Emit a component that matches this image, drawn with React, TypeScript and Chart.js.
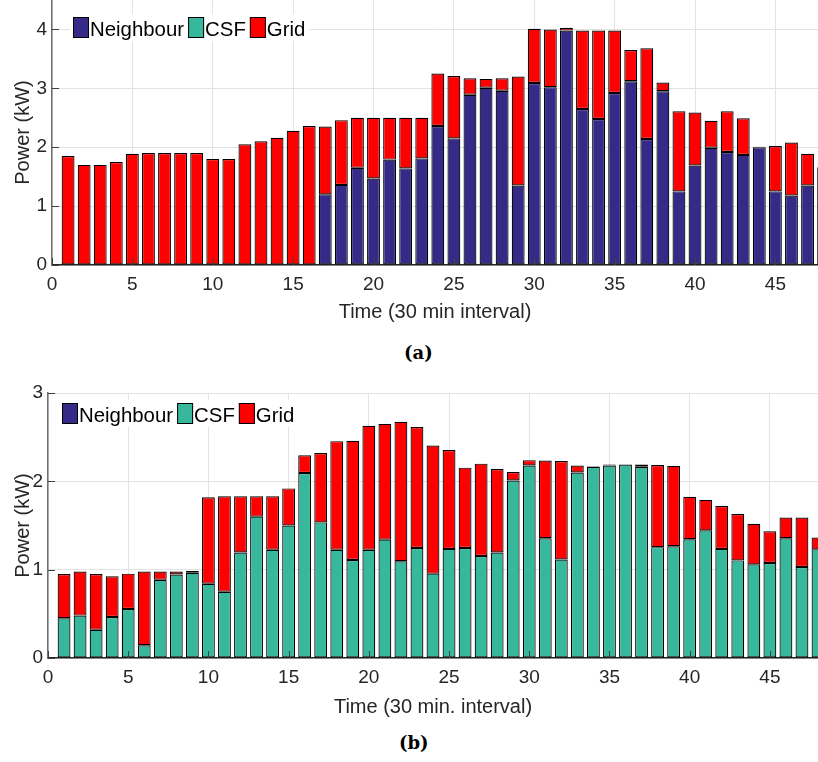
import React, { useEffect, useRef } from 'react';
import { Chart, registerables } from 'chart.js';

Chart.register(...registerables);

// ---------- data ----------
const timeSlots = [
  1, 2, 3, 4, 5, 6, 7, 8, 9, 10, 11, 12, 13, 14, 15, 16,
  17, 18, 19, 20, 21, 22, 23, 24, 25, 26, 27, 28, 29, 30, 31, 32,
  33, 34, 35, 36, 37, 38, 39, 40, 41, 42, 43, 44, 45, 46, 47, 48,
];

const seriesLabels = ['Neighbour', 'CSF', 'Grid'];

// (a)
const topNeighbour = [
  0, 0, 0, 0, 0, 0, 0, 0, 0, 0, 0, 0, 0, 0, 0, 0,
  1.2, 1.36, 1.65, 1.47, 1.79, 1.64, 1.81, 2.36, 2.15, 2.89, 3.01, 2.96, 1.35, 3.09, 3.02, 3.98,
  2.65, 2.48, 2.92, 3.12, 2.14, 2.95, 1.25, 1.69, 1.99, 1.92, 1.87, 2.0, 1.25, 1.18, 1.35, 1.66,
];
const topCSF = [
  0, 0, 0, 0, 0, 0, 0, 0, 0, 0, 0, 0, 0, 0, 0, 0,
  0, 0, 0, 0, 0, 0, 0, 0, 0, 0, 0, 0, 0, 0, 0, 0,
  0, 0, 0, 0, 0, 0, 0, 0, 0, 0, 0, 0, 0, 0, 0, 0,
];
const topGrid = [
  1.85, 1.7, 1.7, 1.75, 1.89, 1.9, 1.9, 1.9, 1.9, 1.8, 1.8, 2.05, 2.1, 2.16, 2.28, 2.36,
  1.15, 1.1, 0.85, 1.03, 0.71, 0.86, 0.69, 0.89, 1.06, 0.28, 0.15, 0.21, 1.85, 0.92, 0.98, 0.05,
  1.33, 1.5, 1.06, 0.53, 1.54, 0.15, 1.36, 0.9, 0.46, 0.69, 0.62, 0.01, 0.77, 0.9, 0.54, 0,
];

// (b)
const bottomNeighbour = [
  0, 0, 0, 0, 0, 0, 0, 0, 0, 0, 0, 0, 0, 0, 0, 0,
  0, 0, 0, 0, 0, 0, 0, 0, 0, 0, 0, 0, 0, 0, 0, 0,
  0, 0, 0, 0, 0, 0, 0, 0, 0, 0, 0, 0, 0, 0, 0, 0,
];
const bottomCSF = [
  0.45, 0.48, 0.32, 0.465, 0.555, 0.145, 0.885, 0.945, 0.965, 0.84, 0.75, 1.195, 1.6, 1.225, 1.5, 2.095,
  1.535, 1.225, 1.11, 1.225, 1.34, 1.095, 1.245, 0.955, 1.235, 1.245, 1.155, 1.195, 2.01, 2.18, 1.355, 1.115,
  2.1, 2.165, 2.18, 2.19, 2.165, 1.255, 1.265, 1.345, 1.445, 1.235, 1.105, 1.06, 1.075, 1.355, 1.03, 1.23,
];
const bottomGrid = [
  0.5, 0.5, 0.63, 0.46, 0.4, 0.835, 0.095, 0.035, 0.02, 0.98, 1.08, 0.635, 0.23, 0.605, 0.42, 0.2,
  0.785, 1.23, 1.35, 1.405, 1.31, 1.58, 1.37, 1.45, 1.12, 0.91, 1.045, 0.945, 0.095, 0.06, 0.88, 1.115,
  0.08, 0.005, 0.01, 0, 0.025, 0.93, 0.91, 0.48, 0.345, 0.485, 0.525, 0.46, 0.36, 0.235, 0.56, 0.135,
];

const yTitle = 'Power (kW)';
const topXTitle = 'Time (30 min interval)';
const bottomXTitle = 'Time (30 min. interval)';
const captions = ['(a)', '(b)'];

// ---------- style ----------
const COLORS = ['#352a87', '#37b89d', '#ff0000'];
const FONT = '"Liberation Sans", Arial, Helvetica, sans-serif';
const TEXT = '#262626';
const GRID = '#e3e3e3';
const TICK_SIZE = 19;
const TITLE_SIZE = 20;
const LEGEND_SIZE = 20.4;

function makeLegendPlugin(dx: number, dy: number) {
  return {
    id: 'matlabLegend',
    afterDatasetsDraw(chart: any) {
      const { ctx, chartArea } = chart;
      const boxW = 16;
      const boxH = 21;
      const textGap = 1;
      const itemGap = 4;
      ctx.save();
      ctx.font = `${LEGEND_SIZE}px ${FONT}`;
      const items = chart.data.datasets.map((ds: any) => ({ label: ds.label, color: ds.backgroundColor }));
      let total = 0;
      items.forEach((it: any) => {
        total += boxW + textGap + ctx.measureText(it.label).width + itemGap;
      });
      let x = chartArea.left + dx;
      const y = chartArea.top + dy;
      ctx.fillStyle = '#ffffff';
      ctx.fillRect(x - 3, y - 3, total + 3, boxH + 6);
      items.forEach((it: any) => {
        ctx.fillStyle = it.color;
        ctx.fillRect(x, y, boxW, boxH);
        ctx.strokeStyle = '#000000';
        ctx.lineWidth = 1;
        ctx.strokeRect(x + 0.5, y + 0.5, boxW - 1, boxH - 1);
        ctx.fillStyle = '#000000';
        ctx.textAlign = 'left';
        ctx.textBaseline = 'alphabetic';
        ctx.fillText(it.label, x + boxW + textGap, y + boxH - 2);
        x += boxW + textGap + ctx.measureText(it.label).width + itemGap;
      });
      ctx.restore();
    },
  };
}

const innerTicksPlugin = {
  id: 'innerTicks',
  afterDatasetsDraw(chart: any) {
    const { ctx, chartArea, scales } = chart;
    ctx.save();
    ctx.strokeStyle = '#404040';
    ctx.lineWidth = 1;
    scales.x.ticks.forEach((t: any) => {
      const px = Math.round(scales.x.getPixelForValue(t.value)) + 0.5;
      ctx.beginPath();
      ctx.moveTo(px, chartArea.bottom);
      ctx.lineTo(px, chartArea.bottom - 7);
      ctx.stroke();
    });
    scales.y.ticks.forEach((t: any) => {
      const py = Math.round(scales.y.getPixelForValue(t.value)) + 0.5;
      ctx.beginPath();
      ctx.moveTo(chartArea.left, py);
      ctx.lineTo(chartArea.left + 7, py);
      ctx.stroke();
    });
    ctx.restore();
  },
};

type PanelProps = {
  top: number;
  height: number;
  neighbour: number[];
  csf: number[];
  grid: number[];
  yMax: number;
  xMax: number;
  xTitle: string;
  yAxisWidth: number;
  xAxisHeight: number;
  padTop: number;
  legendDx: number;
  legendDy: number;
};

function BarPanel(p: PanelProps) {
  const ref = useRef<HTMLCanvasElement>(null);
  useEffect(() => {
    const series = [p.neighbour, p.csf, p.grid];
    const chart = new Chart(ref.current as HTMLCanvasElement, {
      type: 'bar',
      data: {
        datasets: series.map((vals, i) => ({
          label: seriesLabels[i],
          data: timeSlots.map((t, j) => ({ x: t, y: vals[j] })),
          backgroundColor: COLORS[i],
          borderColor: '#000000',
          borderWidth: 1.2,
          borderSkipped: false,
          barPercentage: 0.8,
          categoryPercentage: 1,
        })),
      } as any,
      options: {
        animation: false,
        responsive: false,
        maintainAspectRatio: false,
        layout: { padding: { top: p.padTop, left: 0, right: 0, bottom: 0 } },
        plugins: { legend: { display: false }, tooltip: { enabled: false } },
        scales: {
          x: {
            type: 'linear',
            stacked: true,
            min: 0,
            max: p.xMax,
            offset: false,
            grid: { color: GRID, lineWidth: 1, drawTicks: false, offset: false },
            border: { display: true, color: '#262626', width: 1.5 },
            ticks: {
              stepSize: 5,
              includeBounds: false,
              padding: 8,
              color: TEXT,
              font: { family: FONT, size: TICK_SIZE },
              maxRotation: 0,
            },
            title: {
              display: true,
              text: p.xTitle,
              color: TEXT,
              font: { family: FONT, size: TITLE_SIZE },
              padding: { top: 0, bottom: 6 },
            },
            afterFit(scale: any) {
              scale.height = p.xAxisHeight;
              scale.paddingLeft = 0;
              scale.paddingRight = 0;
            },
          },
          y: {
            type: 'linear',
            stacked: true,
            min: 0,
            max: p.yMax,
            grid: { color: GRID, lineWidth: 1, drawTicks: false },
            border: { display: true, color: '#707070', width: 1.5 },
            ticks: {
              stepSize: 1,
              includeBounds: false,
              padding: 5,
              color: TEXT,
              font: { family: FONT, size: TICK_SIZE },
            },
            title: {
              display: true,
              text: yTitle,
              color: TEXT,
              font: { family: FONT, size: TITLE_SIZE },
              padding: { top: 11, bottom: 0 },
            },
            afterFit(scale: any) {
              scale.width = p.yAxisWidth;
              scale.paddingTop = 0;
              scale.paddingBottom = 0;
            },
          },
        },
      } as any,
      plugins: [innerTicksPlugin, makeLegendPlugin(p.legendDx, p.legendDy)],
    });
    return () => chart.destroy();
  }, []);
  return (
    <canvas
      ref={ref}
      width={818}
      height={p.height}
      style={{ position: 'absolute', left: 0, top: p.top, width: 818, height: p.height, display: 'block' }}
    />
  );
}

const captionStyle: React.CSSProperties = {
  position: 'absolute',
  font: 'bold 18px "DejaVu Serif", "Liberation Serif", serif',
  color: '#000',
  whiteSpace: 'nowrap',
};

export default function App() {
  return (
    <div style={{ position: 'absolute', left: 0, top: 0, width: 818, height: 762, background: '#fff', overflow: 'hidden' }}>
      <BarPanel
        top={0}
        height={330}
        neighbour={topNeighbour}
        csf={topCSF}
        grid={topGrid}
        yMax={4.5}
        xMax={47.65}
        xTitle={topXTitle}
        yAxisWidth={52}
        xAxisHeight={65}
        padTop={0}
        legendDx={21}
        legendDy={17}
      />
      <div style={{ ...captionStyle, left: 404, top: 342 }}>{captions[0]}</div>
      <BarPanel
        top={370}
        height={355}
        neighbour={bottomNeighbour}
        csf={bottomCSF}
        grid={bottomGrid}
        yMax={3}
        xMax={48}
        xTitle={bottomXTitle}
        yAxisWidth={48}
        xAxisHeight={67}
        padTop={23}
        legendDx={14}
        legendDy={10}
      />
      <div style={{ ...captionStyle, left: 399, top: 732 }}>{captions[1]}</div>
    </div>
  );
}
